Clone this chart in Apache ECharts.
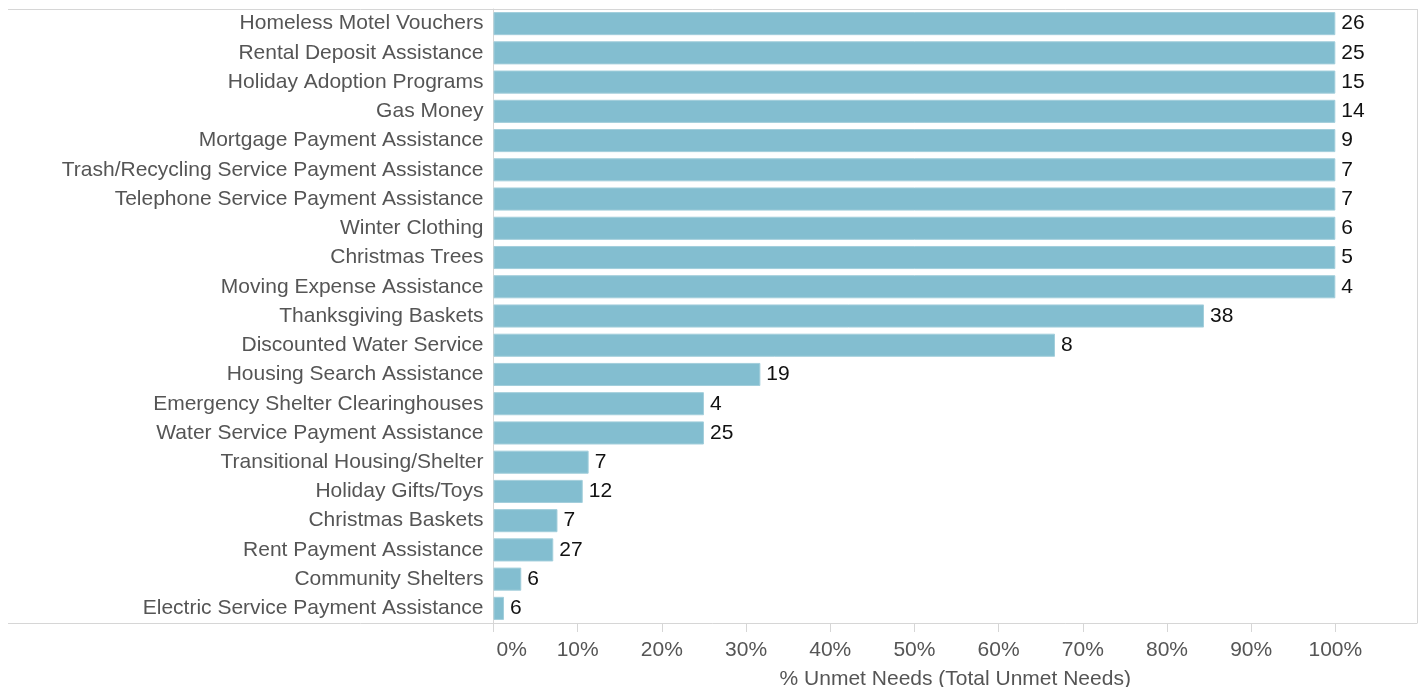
<!DOCTYPE html>
<html>
<head>
<meta charset="utf-8">
<script src="https://cdn.jsdelivr.net/npm/echarts@6/dist/echarts.min.js"></script>
<style>
  html, body { margin: 0; padding: 0; background: #fff; }
  #chart { width: 1426px; height: 687px; }
</style>
</head>
<body>
<div id="chart"></div>
<script>
// Service categories, top to bottom
const categories = [
  'Homeless Motel Vouchers',
  'Rental Deposit Assistance',
  'Holiday Adoption Programs',
  'Gas Money',
  'Mortgage Payment Assistance',
  'Trash/Recycling Service Payment Assistance',
  'Telephone Service Payment Assistance',
  'Winter Clothing',
  'Christmas Trees',
  'Moving Expense Assistance',
  'Thanksgiving Baskets',
  'Discounted Water Service',
  'Housing Search Assistance',
  'Emergency Shelter Clearinghouses',
  'Water Service Payment Assistance',
  'Transitional Housing/Shelter',
  'Holiday Gifts/Toys',
  'Christmas Baskets',
  'Rent Payment Assistance',
  'Community Shelters',
  'Electric Service Payment Assistance'
];

// Share of needs that went unmet (%)
const pctUnmet = [100, 100, 100, 100, 100, 100, 100, 100, 100, 100,
                  84.4, 66.7, 31.7, 25.0, 25.0, 11.3, 10.6, 7.6, 7.1, 3.3, 1.25];

// Total count of unmet needs
const totalUnmet = [26, 25, 15, 14, 9, 7, 7, 6, 5, 4,
                    38, 8, 19, 4, 25, 7, 12, 7, 27, 6, 6];

const tickValues = [0, 10, 20, 30, 40, 50, 60, 70, 80, 90, 100];

const chart = echarts.init(document.getElementById('chart'), null, { renderer: 'canvas' });

const font = 'Helvetica Neue, Helvetica, Liberation Sans, Arial, sans-serif';
const frameColor = '#d6d6d6';
const textGray = '#555555';

const gridLeft = 493.5, gridRight = 9, gridTop = 9, gridBottom = 64;
const W = 1426, H = 687;

chart.setOption({
  animation: false,
  backgroundColor: '#ffffff',
  grid: {
    left: gridLeft, right: gridRight, top: gridTop, bottom: gridBottom,
    containLabel: false,
    outerBoundsMode: 'none'
  },
  xAxis: {
    type: 'value',
    min: 0,
    max: 109.7,
    interval: 10,
    splitLine: { show: false },
    axisLine: { show: false },
    axisTick: { show: true, length: 9, customValues: tickValues, lineStyle: { color: frameColor, width: 1 } },
    axisLabel: {
      customValues: tickValues,
      // the first label sits just inside the axis instead of centred on it
      formatter: v => (v === 0 ? '{first|0%}' : v + '%'),
      alignMinLabel: 'left',
      color: textGray, fontSize: 21, fontFamily: font, margin: 17,
      rich: {
        first: { color: textGray, fontSize: 21, fontFamily: font, padding: [0, 0, 0, 3] }
      }
    },
    name: '% Unmet Needs (Total Unmet Needs)',
    nameLocation: 'middle',
    nameGap: 46,
    nameTextStyle: { color: textGray, fontSize: 21, fontFamily: font }
  },
  yAxis: {
    type: 'category',
    data: categories,
    inverse: true,
    axisLine: { show: true, lineStyle: { color: frameColor, width: 1 } },
    axisTick: { show: false },
    axisLabel: { color: textGray, fontSize: 21, fontFamily: font, margin: 10, padding: [2, 0, 0, 0] }
  },
  series: [{
    type: 'bar',
    data: pctUnmet,
    barCategoryGap: '21%',
    itemStyle: { color: '#83bed0', borderColor: '#a2cedb', borderWidth: 1 },
    label: {
      show: true,
      position: 'right',
      distance: 6,
      color: '#111111',
      fontSize: 21,
      fontFamily: font,
      padding: [2, 0, 0, 0],
      formatter: p => totalUnmet[p.dataIndex]
    }
  }],
  graphic: [
    // frame around the plot: top, bottom and right edges
    { type: 'line', silent: true, shape: { x1: 8, y1: gridTop + 0.5, x2: W - gridRight + 0.5, y2: gridTop + 0.5 },
      style: { stroke: frameColor, lineWidth: 1 } },
    { type: 'line', silent: true, shape: { x1: 8, y1: H - gridBottom + 0.5, x2: W - gridRight + 0.5, y2: H - gridBottom + 0.5 },
      style: { stroke: frameColor, lineWidth: 1 } },
    { type: 'line', silent: true, shape: { x1: W - gridRight + 0.5, y1: gridTop, x2: W - gridRight + 0.5, y2: H - gridBottom },
      style: { stroke: frameColor, lineWidth: 1 } }
  ]
});
</script>
</body>
</html>
